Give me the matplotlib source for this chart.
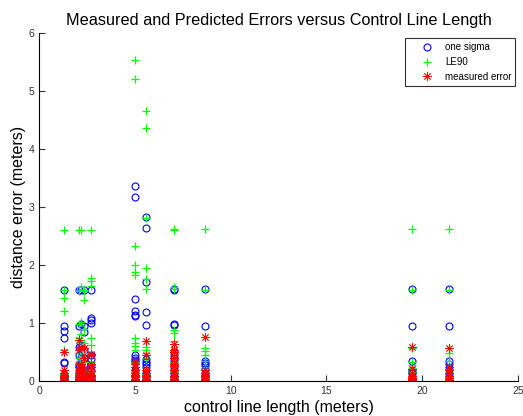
import matplotlib
matplotlib.use("Agg")
import matplotlib.pyplot as plt

plt.rcParams['font.family'] = ['Liberation Sans', 'DejaVu Sans']

# control line lengths (one entry per point), and the three error series
line_length = ([1.3] * 10 + [2.07] * 10 + [2.2] * 10 + [2.33] * 9 + [2.7] * 10
               + [5.0] * 12 + [5.6] * 11 + [7.04] * 14 + [8.66] * 9
               + [19.45] * 8 + [21.4] * 8)

one_sigma = [1.58, 0.96, 0.87, 0.74, 0.33, 0.31, 0.12, 0.08, 0.05, 0.03,
             1.58, 0.95, 0.60, 0.45, 0.30, 0.25, 0.18, 0.12, 0.08, 0.05,
             1.58, 0.99, 0.62, 0.50, 0.40, 0.30, 0.22, 0.15, 0.10, 0.06,
             1.58, 0.95, 0.85, 0.55, 0.40, 0.30, 0.20, 0.12, 0.07,
             1.58, 1.09, 1.05, 1.00, 0.45, 0.38, 0.28, 0.20, 0.10, 0.05,
             3.36, 3.17, 1.42, 1.22, 1.15, 1.12, 0.45, 0.40, 0.37, 0.33, 0.20, 0.10,
             2.83, 2.65, 1.71, 1.19, 0.97, 0.38, 0.33, 0.30, 0.25, 0.15, 0.08,
             1.60, 1.58, 0.99, 0.97, 0.50, 0.45, 0.40, 0.35, 0.30, 0.25, 0.20, 0.15, 0.10, 0.05,
             1.60, 0.95, 0.35, 0.32, 0.28, 0.22, 0.15, 0.10, 0.05,
             1.59, 0.95, 0.35, 0.20, 0.17, 0.14, 0.10, 0.05,
             1.60, 0.96, 0.35, 0.30, 0.22, 0.15, 0.10, 0.05]

le90 = [2.60, 1.58, 1.43, 1.22, 0.54, 0.51, 0.20, 0.13, 0.08, 0.05,
        2.60, 1.56, 0.99, 0.74, 0.49, 0.41, 0.30, 0.20, 0.13, 0.08,
        2.60, 1.63, 1.02, 0.82, 0.66, 0.49, 0.36, 0.25, 0.16, 0.10,
        1.58, 1.56, 1.40, 0.90, 0.66, 0.49, 0.33, 0.20, 0.12,
        2.60, 1.79, 1.73, 1.65, 0.74, 0.62, 0.46, 0.33, 0.16, 0.08,
        5.53, 5.21, 2.34, 2.01, 1.89, 1.84, 0.74, 0.66, 0.61, 0.54, 0.33, 0.16,
        4.65, 4.36, 2.81, 1.96, 1.60, 1.77, 0.54, 0.49, 0.41, 0.60, 0.13,
        2.63, 2.60, 1.63, 1.60, 0.88, 0.83, 0.70, 0.60, 0.50, 0.41, 0.33, 0.25, 0.16, 0.08,
        2.63, 1.58, 0.57, 0.53, 0.46, 0.36, 0.25, 0.16, 0.08,
        2.62, 1.58, 0.57, 0.33, 0.28, 0.23, 0.16, 0.08,
        2.63, 1.58, 0.58, 0.49, 0.36, 0.25, 0.16, 0.08]

measured_error = [0.50, 0.20, 0.15, 0.10, 0.05, 0.02, 0.03, 0.12, 0.08, 0.01,
                  0.72, 0.55, 0.25, 0.28, 0.12, 0.08, 0.05, 0.03, 0.15, 0.02,
                  0.59, 0.58, 0.30, 0.20, 0.15, 0.10, 0.06, 0.04, 0.25, 0.02,
                  0.57, 0.40, 0.22, 0.15, 0.10, 0.06, 0.04, 0.02, 0.12,
                  0.48, 0.45, 0.30, 0.25, 0.18, 0.12, 0.08, 0.05, 0.02, 0.10,
                  0.35, 0.30, 0.25, 0.20, 0.15, 0.10, 0.05, 0.02, 0.08, 0.12, 0.03, 0.01,
                  0.70, 0.45, 0.20, 0.15, 0.10, 0.05, 0.03, 0.08, 0.02, 0.12, 0.01,
                  0.65, 0.55, 0.50, 0.40, 0.30, 0.26, 0.20, 0.15, 0.10, 0.08, 0.05, 0.03, 0.02, 0.01,
                  0.76, 0.20, 0.15, 0.10, 0.08, 0.05, 0.03, 0.02, 0.12,
                  0.60, 0.22, 0.15, 0.10, 0.06, 0.04, 0.02, 0.01,
                  0.58, 0.25, 0.20, 0.15, 0.10, 0.06, 0.03, 0.01]

fig = plt.figure(figsize=(5.23, 4.16), dpi=100)
ax = fig.add_axes([0.0751, 0.083, 0.9149, 0.8377])

ax.plot(line_length, one_sigma, 'o', color='#0000ff', mfc='none', ms=5, mew=0.8, label='one sigma')
ax.plot(line_length, le90, '+', color='#00ff00', ms=6, mew=0.9, label='LE90')
ax.plot(line_length, measured_error, marker=(8, 2, 0), ls='none', color='#ff0000',
        ms=6, mew=0.6, label='measured error')

ax.set_xlim(0, 25)
ax.set_ylim(0, 6)
ax.set_xticks([0, 5, 10, 15, 20, 25])
ax.set_yticks([0, 1, 2, 3, 4, 5, 6])
ax.tick_params(direction='in', length=4, width=0.8, labelsize=7.5, colors='#333333')
for s in ['top', 'right']:
    ax.spines[s].set_visible(False)
ax.spines['left'].set_linewidth(0.8)
ax.spines['bottom'].set_linewidth(0.8)

ax.set_title('Measured and Predicted Errors versus Control Line Length', fontsize=11.7, pad=6)
ax.set_xlabel('control line length (meters)', fontsize=11.5, labelpad=3)
ax.set_ylabel('distance error (meters)', fontsize=11.5, labelpad=2)

leg = ax.legend(loc='upper right', fontsize=7, fancybox=False, framealpha=1,
                edgecolor='#333333', handlelength=3.7, handletextpad=0.05, borderpad=0.4,
                labelspacing=0.5, borderaxespad=0, bbox_to_anchor=(0.995, 0.985))
leg.get_frame().set_linewidth(0.8)

fig.savefig('out.png', dpi=100)
